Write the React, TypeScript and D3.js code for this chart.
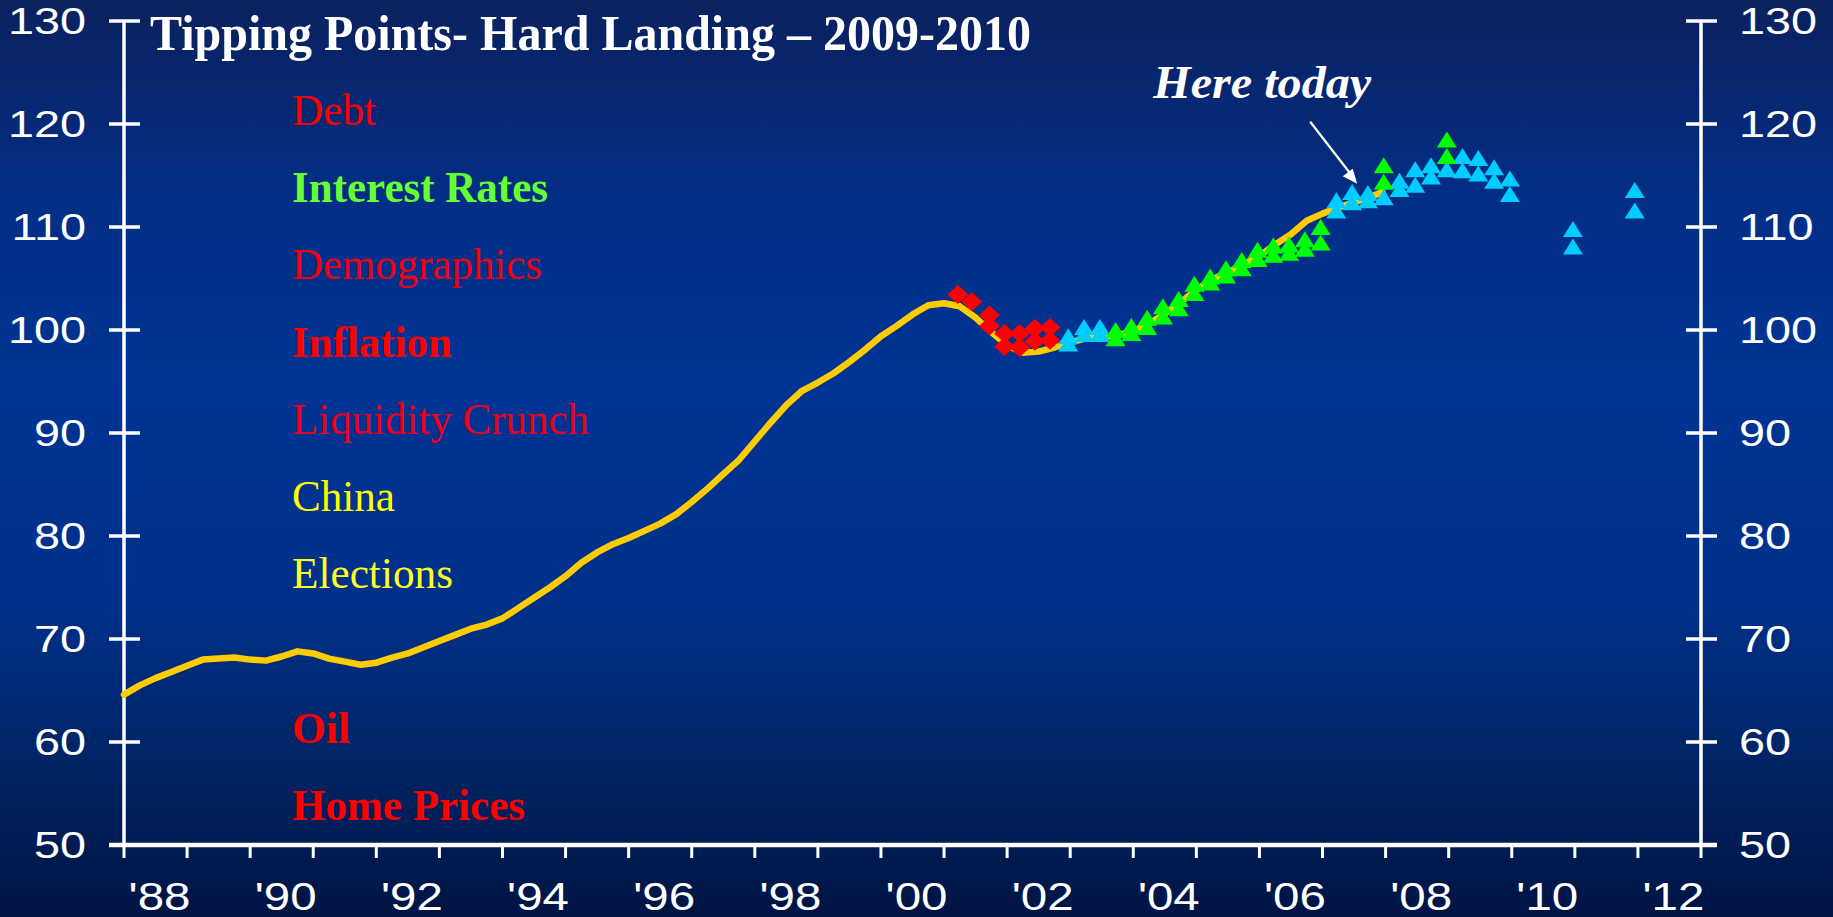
import React from "react";
import * as d3 from "d3";

const W = 1833;
const H = 917;
const margin = { top: 21, right: 132, bottom: 72, left: 124 };

// axis values
const yTicks = [50, 60, 70, 80, 90, 100, 110, 120, 130];
const tickYears = d3.range(1988, 2014);
const labelYears = [1988, 1990, 1992, 1994, 1996, 1998, 2000, 2002, 2004, 2006, 2008, 2010, 2012];
const labelText = ["'88", "'90", "'92", "'94", "'96", "'98", "'00", "'02", "'04", "'06", "'08", "'10", "'12"];

// index line (decimal year, value)
const indexSeries: [number, number][] = [
  [1988.0, 64.6], [1988.25, 65.5], [1988.5, 66.2], [1988.75, 66.8], [1989.0, 67.4],
  [1989.25, 68.0], [1989.5, 68.1], [1989.75, 68.2], [1990.0, 68.0], [1990.25, 67.9],
  [1990.5, 68.3], [1990.75, 68.8], [1991.0, 68.6], [1991.25, 68.1], [1991.5, 67.8],
  [1991.75, 67.5], [1992.0, 67.7], [1992.25, 68.2], [1992.5, 68.6], [1992.75, 69.2],
  [1993.0, 69.8], [1993.25, 70.4], [1993.5, 71.0], [1993.75, 71.4], [1994.0, 72.0],
  [1994.25, 73.0], [1994.5, 74.0], [1994.75, 75.0], [1995.0, 76.1], [1995.25, 77.4],
  [1995.5, 78.4], [1995.75, 79.2], [1996.0, 79.8], [1996.25, 80.5], [1996.5, 81.2],
  [1996.75, 82.1], [1997.0, 83.3], [1997.25, 84.6], [1997.5, 86.0], [1997.75, 87.4],
  [1998.0, 89.2], [1998.25, 91.0], [1998.5, 92.7], [1998.75, 94.1], [1999.0, 94.9],
  [1999.25, 95.8], [1999.5, 96.9], [1999.75, 98.1], [2000.0, 99.4], [2000.25, 100.4],
  [2000.5, 101.5], [2000.75, 102.4], [2001.0, 102.6], [2001.25, 102.3], [2001.5, 101.2],
  [2001.75, 99.8], [2002.0, 98.5], [2002.25, 97.8], [2002.5, 97.9], [2002.75, 98.3],
  [2003.0, 98.8], [2003.25, 99.2], [2003.5, 99.3], [2003.75, 99.5], [2004.0, 99.9],
  [2004.25, 100.6], [2004.5, 101.6], [2004.75, 102.7], [2005.0, 103.9], [2005.25, 104.9],
  [2005.5, 105.6], [2005.75, 106.4], [2006.0, 107.2], [2006.25, 108.3], [2006.5, 109.3],
  [2006.75, 110.6], [2007.0, 111.3], [2007.25, 111.9], [2007.5, 112.4], [2007.75, 112.9],
  [2007.95, 113.4],
];

// red diamonds
const debtMarks: [number, number][] = [
  [2001.22, 103.45], [2001.44, 102.75], [2001.72, 101.46], [2001.72, 100.4],
  [2001.96, 99.66], [2001.96, 98.4], [2002.2, 99.66], [2002.2, 98.3],
  [2002.44, 100.15], [2002.44, 98.9], [2002.68, 100.25], [2002.68, 99.0],
];

// cyan triangles
const cyanMarks: [number, number][] = [
  [2002.97, 99.4], [2002.97, 98.7], [2003.22, 100.3], [2003.22, 99.6],
  [2003.47, 100.3], [2003.47, 99.6],
  [2007.22, 112.6], [2007.22, 111.6], [2007.47, 113.4], [2007.47, 112.4],
  [2007.72, 113.3], [2007.72, 112.6], [2007.97, 112.9],
  [2008.22, 114.5], [2008.22, 113.7], [2008.47, 115.6], [2008.47, 114.1],
  [2008.72, 116.0], [2008.72, 114.9], [2008.97, 115.6],
  [2009.22, 116.9], [2009.22, 115.5], [2009.47, 116.7], [2009.47, 115.2],
  [2009.72, 115.8], [2009.72, 114.5], [2009.97, 114.7], [2009.97, 113.2],
  [2010.97, 109.8], [2010.97, 108.1], [2011.95, 113.6], [2011.95, 111.6],
];

// green triangles
const greenMarks: [number, number][] = [
  [2003.72, 100.0], [2003.72, 99.2], [2003.97, 100.4], [2003.97, 99.7],
  [2004.22, 101.2], [2004.22, 100.3], [2004.47, 102.3], [2004.47, 101.3],
  [2004.72, 103.0], [2004.72, 102.1], [2004.97, 104.5], [2004.97, 103.6],
  [2005.22, 105.2], [2005.22, 104.6], [2005.47, 106.0], [2005.47, 105.3],
  [2005.72, 106.8], [2005.72, 106.0], [2005.97, 107.8], [2005.97, 106.9],
  [2006.22, 108.2], [2006.22, 107.3], [2006.47, 108.3], [2006.47, 107.5],
  [2006.72, 108.8], [2006.72, 107.9], [2006.97, 110.0], [2006.97, 108.5],
  [2007.97, 116.0], [2007.97, 114.4], [2008.97, 118.5], [2008.97, 116.9],
];

const titleText = "Tipping Points- Hard Landing \u2013 2009-2010";
const factorNames = ["Debt", "Interest Rates", "Demographics", "Inflation", "Liquidity Crunch", "China", "Elections", "", "Oil", "Home Prices"];
const annotationText = "Here today";
const annotationAt: [number, number] = [2007.55, 114.2];

// look of each factor label
const factorStyle: Record<string, { color: string; bold: boolean; len: number }> = {
  Debt: { color: "#ff0000", bold: false, len: 84 },
  "Interest Rates": { color: "#66ff33", bold: true, len: 256 },
  Demographics: { color: "#f20010", bold: false, len: 250 },
  Inflation: { color: "#ff0000", bold: true, len: 160 },
  "Liquidity Crunch": { color: "#ee0018", bold: false, len: 297 },
  China: { color: "#ffff00", bold: false, len: 103 },
  Elections: { color: "#ffff22", bold: false, len: 161 },
  Oil: { color: "#ff0000", bold: true, len: 58 },
  "Home Prices": { color: "#ff0000", bold: true, len: 233 },
};

const x = d3.scaleLinear().domain([1988, 2013]).range([margin.left, W - margin.right]);
const y = d3.scaleLinear().domain([50, 130]).range([H - margin.bottom, margin.top]);

const line = d3
  .line<[number, number]>()
  .x((d) => x(d[0]))
  .y((d) => y(d[1]));

const TRI = "M0,-8L10,8L-10,8Z";
const DIAMOND = "M0,-9.5L10.5,0L0,9.5L-10.5,0Z";
const serif = "'Liberation Serif', 'Times New Roman', serif";
const sans = "'Liberation Sans', Arial, sans-serif";

export default function App() {
  const x0 = x(1988);
  const x1 = x(2013);
  const yBase = y(50);
  const [ax, ay] = [x(annotationAt[0]), y(annotationAt[1])];

  return (
    <div>
      <style>{`body{margin:0;overflow:hidden}`}</style>
      <svg width={W} height={H} style={{ display: "block" }}>
        <defs>
          <linearGradient id="bg" x1="0" y1="0" x2="0" y2="1">
            <stop offset="0" stopColor="#0a215e" />
            <stop offset="0.22" stopColor="#032e86" />
            <stop offset="0.42" stopColor="#003494" />
            <stop offset="0.66" stopColor="#003089" />
            <stop offset="0.86" stopColor="#00225f" />
            <stop offset="1" stopColor="#001444" />
          </linearGradient>
        </defs>
        <rect width={W} height={H} fill="url(#bg)" />

        {/* axes */}
        <g stroke="#ffffff" fill="none">
          <line x1={x0} x2={x0} y1={y(130)} y2={yBase} strokeWidth={3.5} />
          <line x1={x1} x2={x1} y1={y(130)} y2={yBase} strokeWidth={3.5} />
          <line x1={x0 - 15} x2={x1 + 16} y1={yBase} y2={yBase} strokeWidth={4.5} />
          {yTicks.map((v) => (
            <g key={v}>
              <line x1={x0 - 15} x2={x0 + 16} y1={y(v)} y2={y(v)} strokeWidth={3.5} />
              <line x1={x1 - 15} x2={x1 + 16} y1={y(v)} y2={y(v)} strokeWidth={3.5} />
            </g>
          ))}
          {tickYears.map((yr) => (
            <line key={yr} x1={x(yr)} x2={x(yr)} y1={yBase} y2={yBase + 13} strokeWidth={3} />
          ))}
        </g>

        <g fill="#ffffff" fontFamily={sans} fontSize={36}>
          {yTicks.map((v) => (
            <g key={v}>
              <text transform={`translate(86,${y(v) + 13}) scale(1.3,1)`} textAnchor="end">
                {v}
              </text>
              <text transform={`translate(${x1 + 38},${y(v) + 13}) scale(1.3,1)`} textAnchor="start">
                {v}
              </text>
            </g>
          ))}
          {labelYears.map((yr, i) => (
            <text
              key={yr}
              transform={`translate(${x(yr + 0.5) + 4},910) scale(1.25,1)`}
              textAnchor="middle"
              fontSize={38}
            >
              {labelText[i]}
            </text>
          ))}
        </g>

        {/* title and factor list */}
        <text
          x={150}
          y={50}
          fill="#ffffff"
          fontFamily={serif}
          fontWeight="bold"
          fontSize={50}
          textLength={881}
          lengthAdjust="spacingAndGlyphs"
        >
          {titleText}
        </text>
        {factorNames.map((name, i) =>
          name ? (
            <text
              key={name}
              x={292}
              y={125 + i * 77.2}
              fill={factorStyle[name].color}
              fontFamily={serif}
              fontWeight={factorStyle[name].bold ? "bold" : "normal"}
              fontSize={44}
              textLength={factorStyle[name].len}
              lengthAdjust="spacingAndGlyphs"
            >
              {name}
            </text>
          ) : null
        )}

        {/* index line */}
        <path
          d={line(indexSeries) ?? ""}
          fill="none"
          stroke="#ffcc00"
          strokeWidth={6.5}
          strokeLinejoin="round"
          strokeLinecap="round"
        />

        {/* markers */}
        {debtMarks.map((d, i) => (
          <path key={`d${i}`} d={DIAMOND} transform={`translate(${x(d[0])},${y(d[1])})`} fill="#ff0000" />
        ))}
        {cyanMarks.map((d, i) => (
          <path key={`c${i}`} d={TRI} transform={`translate(${x(d[0])},${y(d[1])})`} fill="#00ccff" />
        ))}
        {greenMarks.map((d, i) => (
          <path key={`g${i}`} d={TRI} transform={`translate(${x(d[0])},${y(d[1])})`} fill="#00ff00" />
        ))}

        {/* annotation */}
        <text
          x={ax - 204}
          y={ay - 86}
          fill="#ffffff"
          fontFamily={serif}
          fontStyle="italic"
          fontWeight="bold"
          fontSize={47}
          textLength={218}
          lengthAdjust="spacingAndGlyphs"
        >
          {annotationText}
        </text>
        <line x1={ax - 47} y1={ay - 62} x2={ax - 6} y2={ay - 9} stroke="#ffffff" strokeWidth={2.2} />
        <path
          d={`M${ax},${ay}L${ax - 14.5},${ay - 7.5}L${ax - 4.5},${ay - 15}Z`}
          fill="#ffffff"
        />
      </svg>
    </div>
  );
}
